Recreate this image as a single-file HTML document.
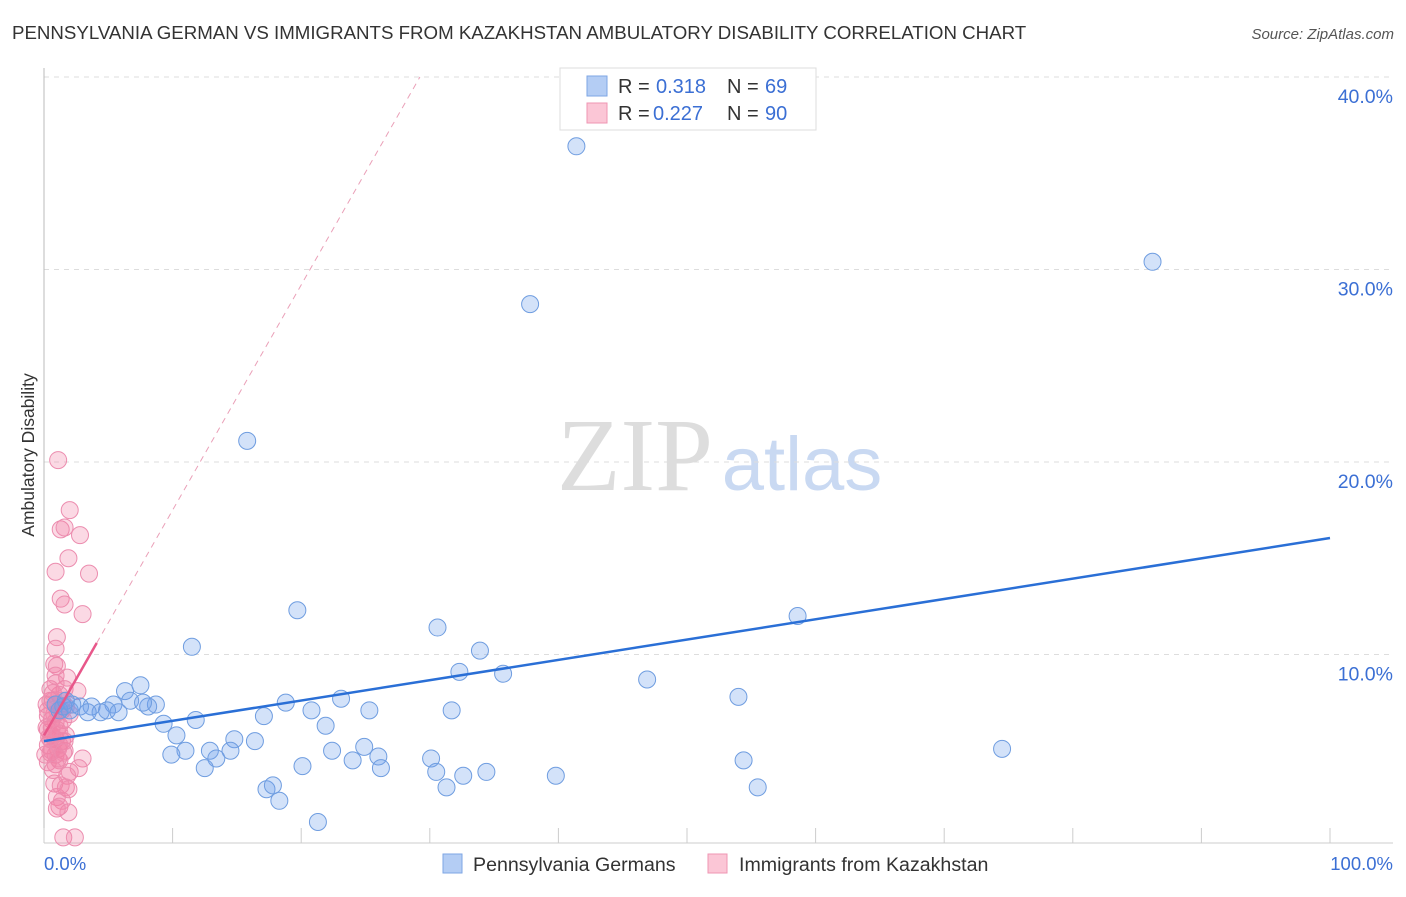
<!DOCTYPE html>
<html><head><meta charset="utf-8"><style>
body{margin:0;background:#fff;font-family:"Liberation Sans",sans-serif}
</style></head><body>
<svg width="1406" height="892" xmlns="http://www.w3.org/2000/svg" style="font-family:'Liberation Sans',sans-serif">
<text x="12" y="39" font-size="18.7" fill="#333">PENNSYLVANIA GERMAN VS IMMIGRANTS FROM KAZAKHSTAN AMBULATORY DISABILITY CORRELATION CHART</text>
<text x="1394" y="39" font-size="15" fill="#555" font-style="italic" text-anchor="end">Source: ZipAtlas.com</text>
<g>
<text x="635" y="490" font-size="104" fill="#ddd" font-family="Liberation Serif,serif" text-anchor="middle">ZIP</text>
<text x="802" y="490" font-size="76" fill="#c9d9f2" text-anchor="middle">atlas</text>
</g>
<g id="grid"></g>
<line x1="44" y1="68" x2="44" y2="843" stroke="#bbb"/>
<line x1="44" y1="843" x2="1393" y2="843" stroke="#ccc"/>
<g id="ticks"></g>
<g id="pts"></g>
<g id="lines"></g>
<text transform="translate(34,455) rotate(-90)" font-size="17.5" fill="#333" text-anchor="middle">Ambulatory Disability</text>
<text x="44" y="870" font-size="18.5" fill="#3b6fd4">0.0%</text>
<text x="1393" y="870" font-size="18.5" fill="#3b6fd4" text-anchor="end">100.0%</text>
<g>
<rect x="560" y="68" width="256" height="62" fill="#fff" stroke="#ddd"/>
<rect x="587" y="76" width="20" height="20" fill="#b4cdf4" stroke="#7ea6e4"/>
<rect x="587" y="103" width="20" height="20" fill="#fbc6d6" stroke="#ef95b3"/>
<text x="618" y="93" font-size="20" fill="#333">R = </text><text x="656" y="93" font-size="20" fill="#3b6fd4">0.318</text>
<text x="727" y="93" font-size="20" fill="#333">N = </text><text x="765" y="93" font-size="20" fill="#3b6fd4">69</text>
<text x="618" y="120" font-size="20" fill="#333">R = </text><text x="653" y="120" font-size="20" fill="#3b6fd4">0.227</text>
<text x="727" y="120" font-size="20" fill="#333">N = </text><text x="765" y="120" font-size="20" fill="#3b6fd4">90</text>
</g>
<g>
<rect x="443" y="854" width="19" height="19" fill="#b4cdf4" stroke="#7ea6e4"/>
<text x="473" y="871" font-size="19.6" fill="#333">Pennsylvania Germans</text>
<rect x="708" y="854" width="19" height="19" fill="#fbc6d6" stroke="#ef95b3"/>
<text x="739" y="871" font-size="19.6" fill="#333">Immigrants from Kazakhstan</text>
</g>
</svg>
<script>
const yTicks=[10,20,30,40];
const yTickLabels=["10.0%","20.0%","30.0%","40.0%"];
const xTicks=[0,10,20,30,40,50,60,70,80,90,100];
const blueX=[41.4,86.2,37.8,15.8,19.7,30.6,58.6,11.5,33.9,32.3,35.7,46.9,54.0,7.5,6.3,6.7,8.7,8.1,5.4,3.7,2.8,2.0,4.4,4.9,5.8,9.3,11.8,17.1,18.8,20.8,23.1,25.3,31.7,21.9,10.3,14.8,16.4,12.9,14.5,11.0,9.9,13.4,12.5,22.4,24.9,24.0,26.0,26.2,20.1,30.1,30.5,32.6,34.4,39.8,31.3,54.4,55.5,74.5,17.3,17.8,18.3,21.3,1.2,2.2,3.4,1.5,0.9,1.7,7.7];
const blueY=[36.4,30.4,28.2,21.1,12.3,11.4,12.0,10.4,10.2,9.1,9.0,8.7,7.8,8.4,8.1,7.6,7.4,7.3,7.4,7.3,7.3,7.1,7.0,7.1,7.0,6.4,6.6,6.8,7.5,7.1,7.7,7.1,7.1,6.3,5.8,5.6,5.5,5.0,5.0,5.0,4.8,4.6,4.1,5.0,5.2,4.5,4.7,4.1,4.2,4.6,3.9,3.7,3.9,3.7,3.1,4.5,3.1,5.1,3.0,3.2,2.4,1.3,7.1,7.4,7.0,7.3,7.4,7.6,7.5];
const pinkX=[1.1,2.0,1.3,1.6,2.8,1.9,0.9,3.5,1.3,1.6,3.0,1.0,0.9,0.8,1.0,0.9,1.8,1.6,2.6,1.2,0.5,0.9,1.4,2.0,0.3,0.6,0.9,1.2,0.3,0.6,0.9,1.4,0.3,1.1,1.6,0.5,0.9,1.2,3.0,0.3,0.9,2.0,2.7,1.8,0.8,1.7,1.0,1.4,1.2,1.9,1.5,2.4,0.5,0.7,1.1,0.2,0.5,1.0,1.5,1.7,0.6,0.1,1.2,0.8,0.2,0.9,1.4,0.4,1.6,1.1,0.7,1.3,1.9,1.0,0.6,1.2,0.3,1.7,0.7,1.5];
const pinkY=[20.1,17.5,16.5,16.6,16.2,15.0,14.3,14.2,12.9,12.6,12.1,10.9,10.3,9.5,9.4,8.9,8.8,8.2,8.1,7.9,7.6,7.4,7.1,6.9,6.8,6.6,6.5,6.3,6.1,5.8,5.6,5.5,5.3,5.1,5.0,4.9,4.8,4.5,4.6,4.4,4.3,3.9,4.1,3.7,3.3,3.1,2.6,2.4,2.1,1.8,0.5,0.5,8.2,7.6,7.0,6.2,5.6,6.1,6.6,5.8,5.0,4.8,5.3,6.9,7.4,8.5,7.6,5.7,5.5,4.6,4.0,3.2,3.0,2.0,6.2,5.9,7.1,7.3,8.0,4.9];
const blueFit=[5.5,16.05];
const pinkFit=[5.8,1.17];
const pinkSolidEnd=4.1;
const NS="http://www.w3.org/2000/svg";
const sx=v=>44+v*12.86;
const sy=v=>847-v*19.25;
function mk(tag,attrs,parent){const e=document.createElementNS(NS,tag);for(const k in attrs)e.setAttribute(k,attrs[k]);document.getElementById(parent).appendChild(e);return e;}
yTicks.forEach((t,i)=>{
  const l=mk('line',{x1:44,x2:1393,y1:sy(t),y2:sy(t),stroke:'#ddd','stroke-dasharray':'5,5'},'grid');
  
  
  const tx=mk('text',{x:1393,y:sy(t)+26,'font-size':19.5,fill:'#3b6fd4','text-anchor':'end'},'grid');
  tx.textContent=yTickLabels[i];
  
  
});
xTicks.forEach(t=>{
  const l=mk('line',{x1:sx(t),x2:sx(t),y1:828,y2:843,stroke:'#ccc'},'ticks');
  
  
});
pinkX.forEach((x,i)=>{
  const c=mk('circle',{cx:sx(x),cy:sy(pinkY[i]),r:8.5,fill:'rgba(242,130,165,0.3)',stroke:'#ec8daf','stroke-width':1},'pts');
  
  
});
blueX.forEach((x,i)=>{
  const c=mk('circle',{cx:sx(x),cy:sy(blueY[i]),r:8.5,fill:'rgba(110,160,235,0.3)',stroke:'#6f9de0','stroke-width':1},'pts');
  
  
});
const bl=mk('line',{x1:sx(0),y1:sy(blueFit[0]),x2:sx(100),y2:sy(blueFit[1]),stroke:'#2a6fd6','stroke-width':2.5},'lines');


const pEndX=(40-pinkFit[0])/pinkFit[1];
const pd=mk('line',{x1:sx(pinkSolidEnd),y1:sy(pinkFit[0]+pinkFit[1]*pinkSolidEnd),x2:sx(pEndX),y2:sy(40),stroke:'#eaa0b8','stroke-width':1,'stroke-dasharray':'6,5'},'lines');


const pl=mk('line',{x1:sx(0),y1:sy(pinkFit[0]),x2:sx(pinkSolidEnd),y2:sy(pinkFit[0]+pinkFit[1]*pinkSolidEnd),stroke:'#e8578a','stroke-width':2.5},'lines');


</script>
</body></html>
